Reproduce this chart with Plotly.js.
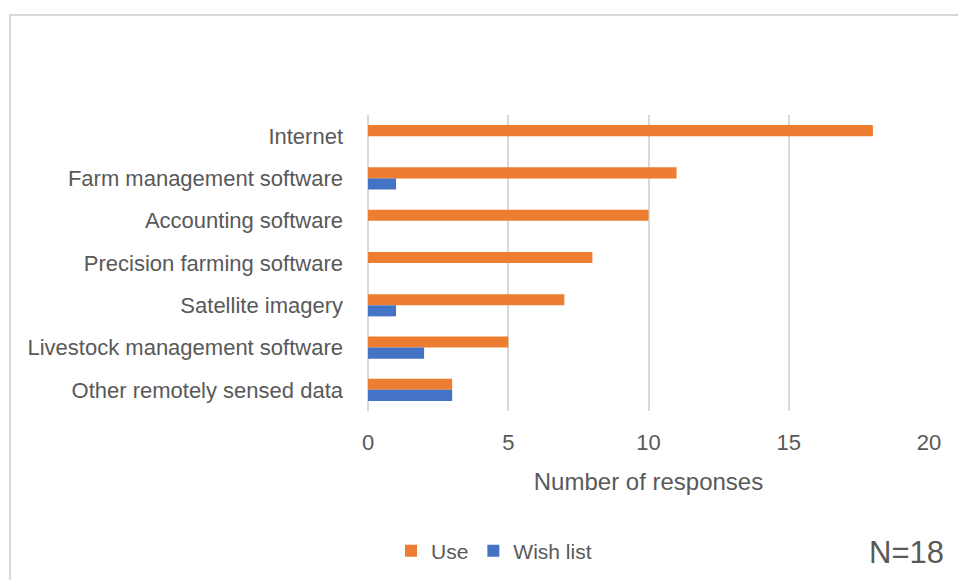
<!DOCTYPE html>
<html>
<head>
<meta charset="utf-8">
<script src="https://cdn.plot.ly/plotly-3.0.1.min.js"></script>
<style>
  html, body { margin: 0; padding: 0; background: #fff; overflow: hidden; }
  #wrap { position: relative; width: 958px; height: 580px; }
  #chart { position: absolute; left: 0; top: 0; width: 958px; height: 580px; }
  #frame { position: absolute; left: 9px; top: 14px; width: 1000px; height: 700px;
           border: 2px solid #D9D9D9; pointer-events: none; box-sizing: border-box; }
</style>
</head>
<body>
<div id="wrap">
  <div id="chart"></div>
  <div id="frame"></div>
</div>
<script>
const categories = [
  "Internet",
  "Farm management software",
  "Accounting software",
  "Precision farming software",
  "Satellite imagery",
  "Livestock management software",
  "Other remotely sensed data"
];
const useValues = [18, 11, 10, 8, 7, 5, 3];
const wishValues = [0, 1, 0, 0, 1, 2, 3];
const xTicks = [0, 5, 10, 15, 20];

const FONT = '"Liberation Sans", Arial, sans-serif';
const TXT = '#595959';

const traces = [
  { type: 'bar', orientation: 'h', name: 'Use', y: categories, x: useValues,
    marker: { color: '#ED7D31' }, hoverinfo: 'x+y' },
  { type: 'bar', orientation: 'h', name: 'Wish list', y: categories, x: wishValues,
    marker: { color: '#4472C4' }, hoverinfo: 'x+y' }
];

const layout = {
  width: 958, height: 580,
  margin: { l: 368, r: 29, t: 115, b: 169 },
  paper_bgcolor: 'rgba(0,0,0,0)',
  plot_bgcolor: 'rgba(0,0,0,0)',
  barmode: 'group',
  bargap: 0.476,
  bargroupgap: 0,
  font: { family: FONT, color: TXT },
  xaxis: {
    range: [0, 20],
    tickvals: xTicks,
    ticktext: xTicks.map(String),
    showgrid: true, gridcolor: '#D9D9D9', gridwidth: 2,
    zeroline: true, zerolinecolor: '#D9D9D9', zerolinewidth: 2,
    showline: false, ticks: '',
    ticklabelstandoff: 16,
    tickfont: { size: 22, color: TXT, family: FONT },
    title: { text: 'Number of responses', font: { size: 24, color: TXT, family: FONT }, standoff: 19 },
    fixedrange: true
  },
  yaxis: {
    autorange: 'reversed',
    type: 'category',
    showgrid: false, zeroline: false, showline: false, ticks: '',
    ticklabelstandoff: 24,
    tickfont: { size: 22, color: TXT, family: FONT },
    fixedrange: true
  },
  showlegend: true,
  legend: {
    orientation: 'h',
    traceorder: 'normal',
    xref: 'container', yref: 'container',
    x: 391 / 958, xanchor: 'left',
    y: (580 - 551) / 580, yanchor: 'middle',
    font: { size: 21, color: TXT, family: FONT },
    itemwidth: 30,
    bgcolor: 'rgba(0,0,0,0)'
  },
  annotations: [
    { text: 'N=18', xref: 'paper', yref: 'paper',
      x: (906 - 368) / 561, y: -(552 - 411) / 296,
      xanchor: 'center', yanchor: 'middle', showarrow: false,
      font: { size: 31, color: TXT, family: FONT } }
  ]
};

Plotly.newPlot('chart', traces, layout, { displayModeBar: false, staticPlot: true });
</script>
</body>
</html>
